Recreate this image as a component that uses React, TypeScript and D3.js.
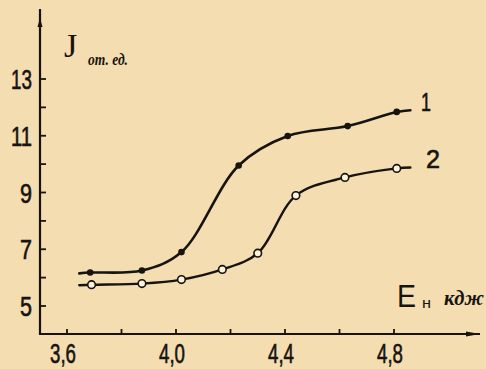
import React from "react";
import * as d3 from "d3";

const xTicks = [3.6, 3.8, 4.0, 4.2, 4.4, 4.6, 4.8];
const xTickLabels = ["3,6", "4,0", "4,4", "4,8"];
const xLabelValues = [3.6, 4.0, 4.4, 4.8];
const yTicks = [5, 6, 7, 8, 9, 10, 11, 12, 13];
const yLabels = [5, 7, 9, 11, 13];

// series 1 (filled dots)
const s1X = [3.685, 3.875, 4.02, 4.23, 4.41, 4.63, 4.81];
const s1Y = [6.18, 6.25, 6.9, 9.95, 10.99, 11.34, 11.84];
// series 2 (open circles)
const s2X = [3.69, 3.875, 4.02, 4.17, 4.30, 4.44, 4.62, 4.81];
const s2Y = [5.75, 5.79, 5.93, 6.29, 6.86, 8.89, 9.53, 9.85];
// drawn curve ends
const s1Start = [3.645, 6.15];
const s1End = [4.86, 11.9];
const s2Start = [3.645, 5.73];
const s2End = [4.86, 9.88];

const PAPER = "#f3ddb1";
const INK = "#17130f";

export default function App() {
  const x = d3.scaleLinear().domain([3.6, 4.8]).range([67, 394]);
  const y = d3.scaleLinear().domain([5, 13]).range([306, 79]);
  const ox = 40;
  const oy = 334;

  const line = d3
    .line<[number, number]>()
    .x((d) => x(d[0]))
    .y((d) => y(d[1]))
    .curve(d3.curveCatmullRom.alpha(0.5));

  const pts1: [number, number][] = [
    s1Start as [number, number],
    ...s1X.map((v, i) => [v, s1Y[i]] as [number, number]),
    s1End as [number, number],
  ];
  const pts2: [number, number][] = [
    s2Start as [number, number],
    ...s2X.map((v, i) => [v, s2Y[i]] as [number, number]),
    s2End as [number, number],
  ];

  const digitFont = "'Liberation Sans', Arial, sans-serif";

  return (
    <svg
      width={486}
      height={369}
      style={{ position: "absolute", left: 0, top: 0 }}
      xmlns="http://www.w3.org/2000/svg"
    >
      <rect x={0} y={0} width={486} height={369} fill={PAPER} />
      {/* axes */}
      <line x1={ox} y1={9} x2={ox} y2={oy + 1} stroke={INK} strokeWidth={2.2} />
      <path d={`M${ox - 2.5},${27} L${ox},${18} L${ox + 2.5},${27} Z`} fill={INK} />
      <line x1={ox - 1} y1={oy} x2={480} y2={oy} stroke={INK} strokeWidth={2.2} />
      <path d={`M${466},${oy - 2.5} L${480},${oy} L${466},${oy + 2.5} Z`} fill={INK} />

      {yTicks.map((t) => (
        <line key={"yt" + t} x1={ox} x2={ox + 6} y1={y(t)} y2={y(t)} stroke={INK} strokeWidth={1.8} />
      ))}
      {xTicks.map((t) => (
        <line key={"xt" + t} x1={x(t)} x2={x(t)} y1={oy} y2={oy - 5} stroke={INK} strokeWidth={1.8} />
      ))}

      {yLabels.map((t) => {
        const w = t >= 10 ? 21 : 12;
        return (
          <text
            key={"yl" + t}
            x={32 - w}
            y={y(t) + 10}
            fontFamily={digitFont}
            fontSize={27}
            fill={INK}
            stroke={INK}
            strokeWidth={0.6}
            textLength={w}
            lengthAdjust="spacingAndGlyphs"
          >
            {t}
          </text>
        );
      })}
      {xLabelValues.map((t, i) => (
        <text
          key={"xl" + t}
          x={x(t) - 17}
          y={363}
          fontFamily={digitFont}
          fontSize={27}
          fill={INK}
          stroke={INK}
          strokeWidth={0.6}
          textLength={26}
          lengthAdjust="spacingAndGlyphs"
        >
          {xTickLabels[i]}
        </text>
      ))}

      {/* curves */}
      <path d={line(pts1) || ""} fill="none" stroke={INK} strokeWidth={2.6} strokeLinecap="round" />
      <path d={line(pts2) || ""} fill="none" stroke={INK} strokeWidth={2.4} strokeLinecap="round" />

      {s1X.map((v, i) => (
        <circle key={"p1" + i} cx={x(v)} cy={y(s1Y[i])} r={3.3} fill={INK} />
      ))}
      {s2X.map((v, i) => (
        <circle
          key={"p2" + i}
          cx={x(v)}
          cy={y(s2Y[i])}
          r={3.8}
          fill="#fbf3de"
          stroke={INK}
          strokeWidth={1.6}
        />
      ))}

      {/* series labels */}
      <text x={421} y={111} fontFamily={digitFont} fontSize={26} fill={INK} stroke={INK} strokeWidth={0.6} textLength={10} lengthAdjust="spacingAndGlyphs">1</text>
      <text x={426} y={168} fontFamily={digitFont} fontSize={26} fill={INK} stroke={INK} strokeWidth={0.6} textLength={14} lengthAdjust="spacingAndGlyphs">2</text>

      {/* axis titles */}
      <text x={64} y={57} fontFamily="'Liberation Serif', serif" fontSize={34} fill={INK}>J</text>
      <text x={88} y={65} fontFamily="'Liberation Serif', serif" fontStyle="italic" fontWeight="bold" fontSize={16} fill={INK} textLength={40} lengthAdjust="spacingAndGlyphs">от. ед.</text>

      <text x={397} y={307} fontFamily={digitFont} fontSize={32} fill={INK} textLength={19} lengthAdjust="spacingAndGlyphs">E</text>
      <text x={422} y={308} fontFamily={digitFont} fontSize={15} fill={INK} textLength={9} lengthAdjust="spacingAndGlyphs">н</text>
      <text x={444} y={305} fontFamily="'Liberation Serif', serif" fontStyle="italic" fontWeight="bold" fontSize={21} fill={INK} textLength={40} lengthAdjust="spacingAndGlyphs">кдж</text>
    </svg>
  );
}
